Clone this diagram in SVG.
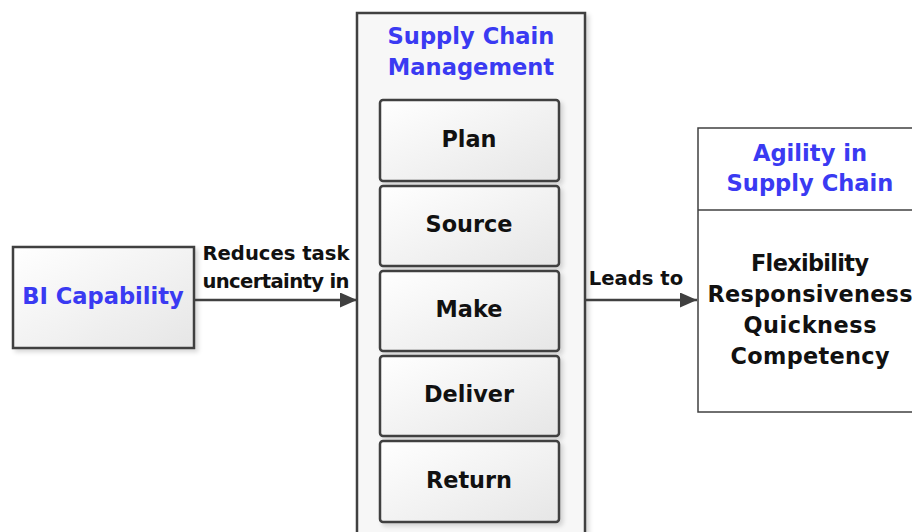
<svg xmlns="http://www.w3.org/2000/svg" width="912" height="532" viewBox="0 0 912 532">
<defs>
<linearGradient id="g" x1="0" y1="0" x2="1" y2="1">
<stop offset="0" stop-color="#ffffff"/>
<stop offset="1" stop-color="#e6e6e6"/>
</linearGradient>
<marker id="ah" markerWidth="17" markerHeight="15" refX="17" refY="7.5" orient="auto" markerUnits="userSpaceOnUse">
<path d="M0,0 L17,7.5 L0,15 Z" fill="#404040"/>
</marker>
<filter id="sh" x="-10%" y="-10%" width="130%" height="130%">
<feDropShadow dx="3" dy="3" stdDeviation="2" flood-color="#000" flood-opacity="0.15"/>
</filter>
</defs>
<style>
text{font-family:"DejaVu Sans",Verdana,sans-serif;font-weight:bold;text-anchor:middle}
.t{fill:#3a3af2;font-size:22.6px}
.b{fill:#111;font-size:22.4px}
.l{fill:#111;font-size:19.6px}
.box{fill:url(#g);stroke:#404040;stroke-width:2.5}
.conn{stroke:#404040;stroke-width:2.5;fill:none}
</style>
<rect width="912" height="532" fill="#fff"/>
<g id="scm">
<rect x="357" y="13" width="228" height="530" fill="#f7f7f7" stroke="#404040" stroke-width="2.5" filter="url(#sh)"/>
<text class="t" x="471" y="44">Supply Chain</text>
<text class="t" x="471" y="75">Management</text>
</g>
<g id="plan"><rect class="box" x="380" y="100" width="179" height="81" rx="3" filter="url(#sh)"/><text class="b" x="469" y="147">Plan</text></g>
<g id="source"><rect class="box" x="380" y="186" width="179" height="80" rx="3" filter="url(#sh)"/><text class="b" x="469" y="232">Source</text></g>
<g id="make"><rect class="box" x="380" y="271" width="179" height="80" rx="3" filter="url(#sh)"/><text class="b" x="469" y="317">Make</text></g>
<g id="deliver"><rect class="box" x="380" y="356" width="179" height="80" rx="3" filter="url(#sh)"/><text class="b" x="469" y="402">Deliver</text></g>
<g id="return"><rect class="box" x="380" y="441" width="179" height="81" rx="3" filter="url(#sh)"/><text class="b" x="469" y="488">Return</text></g>
<g id="bi">
<rect class="box" x="13" y="247" width="181" height="101" filter="url(#sh)"/>
<text class="t" x="103" y="304">BI Capability</text>
</g>
<g id="agility">
<rect x="698" y="128" width="230" height="284" fill="#fff" stroke="#404040" stroke-width="1.5"/>
<line x1="698" y1="210" x2="912" y2="210" stroke="#404040" stroke-width="1.5"/>
<text class="t" x="810" y="161">Agility in</text>
<text class="t" x="810" y="191">Supply Chain</text>
<text class="b" x="810" y="271" textLength="118">Flexibility</text>
<text class="b" x="810" y="302" textLength="205">Responsiveness</text>
<text class="b" x="810" y="333" textLength="133">Quickness</text>
<text class="b" x="810" y="364" textLength="159">Competency</text>
</g>
<g id="connectors">
<line class="conn" x1="194" y1="300" x2="357" y2="300" marker-end="url(#ah)"/>
<text class="l" x="276" y="260" textLength="147">Reduces task</text>
<text class="l" x="276" y="288" textLength="147">uncertainty in</text>
<line class="conn" x1="585" y1="300" x2="697" y2="300" marker-end="url(#ah)"/>
<text class="l" x="636" y="285">Leads to</text>
</g>
</svg>
